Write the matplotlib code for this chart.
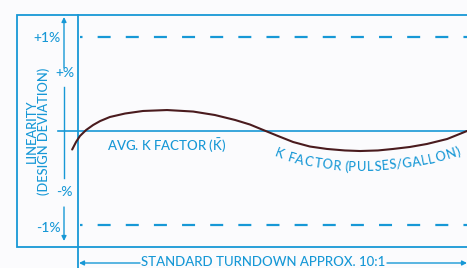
import matplotlib
matplotlib.use("Agg")
import matplotlib.pyplot as plt
import numpy as np
from matplotlib.transforms import Affine2D
from matplotlib.font_manager import FontProperties
from matplotlib.textpath import text_to_path

# Flow as % of the standard turndown span, linearity as % deviation from avg K
flow = [-1.5, -0.5, 0.5, 2.1, 3.9, 5.7, 8.2, 12.1, 16.7, 22.9, 29.6, 35.2, 40.4,
        44.2, 47.6, 51.4, 55.3, 59.6, 64.0, 68.6, 72.5, 77.1, 81.0, 85.3, 89.7,
        94.9, 100.0]
deviation = [-0.197, -0.117, -0.053, 0.011, 0.064, 0.106, 0.149, 0.186, 0.213,
             0.223, 0.207, 0.170, 0.117, 0.069, 0.011, -0.053, -0.117, -0.165,
             -0.191, -0.207, -0.213, -0.207, -0.191, -0.170, -0.138, -0.085, 0.000]
limits = [1, -1]
tick_labels = ["+1%", "+%", "-%", "-1%"]

blue = "#1798d6"
curve_col = "#4a1b1e"
FAM = 'Lato'
plt.rcParams['font.family'] = [FAM, 'DejaVu Sans']
plt.rcParams['font.weight'] = 'medium'
plt.rcParams['mathtext.fontset'] = 'custom'
plt.rcParams['mathtext.rm'] = FAM + ':medium'
plt.rcParams['lines.scale_dashes'] = False

W, H = 467, 268
fig = plt.figure(figsize=(W / 100, H / 100), dpi=100, facecolor="#fbfbfd")
ax = fig.add_axes([0, 0, 1, 1])
ax.set_facecolor("#fbfbfd")
ax.set_xlim(-78 / 3.89, 100.0)
ax.set_ylim((131 - 268) / 94, 131 / 94)
ax.axis("off")

# pixel coords, y down
pix = Affine2D().scale(1 / W, -1 / H).translate(0, 1) + ax.transAxes
pixu = Affine2D().scale(1 / W, 1 / H) + ax.transAxes

# frame
ax.plot([470, 17, 17, 470], [14.5, 14.5, 247, 247], color=blue, lw=1.3, transform=pix, solid_joinstyle='miter')
ax.plot([78, 78], [14.5, 270], color=blue, lw=1.3, transform=pix)

# +/-1% dashed limits and zero line
for lim in limits:
    ax.plot([2.5 / 3.89, 100], [lim, lim], color=blue, lw=1.6, linestyle=(7.56, (9.36, 10.9)))
ax.plot([(58 - 78) / 3.89, 100], [0, 0], color=blue, lw=1.2)

# vertical arrow with gaps for the +% / -% labels
arr = dict(arrowstyle='-|>', color=blue, lw=1.0, mutation_scale=7, shrinkA=0, shrinkB=0)
ax.annotate('', xy=(64, 17), xytext=(64, 68), xycoords=pix, textcoords=pix, arrowprops=arr)
ax.plot([64, 64], [87, 178], color=blue, lw=1.0, transform=pix)
ax.annotate('', xy=(64, 241), xytext=(64, 207), xycoords=pix, textcoords=pix, arrowprops=arr)

fs = 10
ax.text(61, 37.5, tick_labels[0], color=blue, fontsize=fs, ha='right', va='center', transform=pix)
ax.text(65, 73, tick_labels[1], color=blue, fontsize=fs, ha='center', va='center', transform=pix)
ax.text(64, 192, tick_labels[2], color=blue, fontsize=fs, ha='center', va='center', transform=pix)
ax.text(61, 227.5, tick_labels[3], color=blue, fontsize=fs, ha='right', va='center', transform=pix)
ax.text(38, 131, "LINEARITY\n(DESIGN DEVIATION)", color=blue, fontsize=9.3, rotation=90,
        ha='center', va='center', linespacing=1.0, multialignment='center', transform=pix)

# curve
ax.plot(flow, deviation, color=curve_col, lw=1.5, solid_capstyle='round')

ax.text(107, 145, r"AVG. K FACTOR ($\bar{\mathrm{K}}$)", color=blue, fontsize=9.5,
        ha='left', va='center', transform=pix)

# bottom turndown arrow
ax.annotate('', xy=(79, 263), xytext=(140, 263), xycoords=pix, textcoords=pix, arrowprops=arr)
ax.annotate('', xy=(467, 263), xytext=(387, 263), xycoords=pix, textcoords=pix, arrowprops=arr)
ax.text(263, 256, "STANDARD TURNDOWN APPROX. 10:1", color=blue, fontsize=9.5,
        ha='center', va='top', transform=pix)

# "K FACTOR (PULSES/GALLON)" following the curve
fig.canvas.draw()
disp = ax.transData.transform(np.column_stack([flow, deviation]))
xs = np.linspace(disp[0, 0], disp[-1, 0], 800)
ys = np.interp(xs, disp[:, 0], disp[:, 1])
k = np.ones(41) / 41
ys_s = np.convolve(np.pad(ys, 20, mode='edge'), k, mode='valid')
seg = np.hypot(np.diff(xs), np.diff(ys_s))
arc = np.concatenate([[0], np.cumsum(seg)])
label = "K FACTOR (PULSES/GALLON)"

def width(s, fp):
    return text_to_path.get_text_width_height_descent(s + "|", fp, ismath=False)[0] * 100 / 72

fp = FontProperties(family=[FAM, 'DejaVu Sans'], weight='medium', size=10)
fs_k = 10 * 176 / (width(label, fp) - width("", fp))
fp = FontProperties(family=[FAM, 'DejaVu Sans'], weight='medium', size=fs_k)
bar = width("", fp)
s0 = np.interp(281, xs, arc)
offset = 16
for i, ch in enumerate(label):
    a = width(label[:i], fp) - bar
    w = width(label[:i + 1], fp) - bar - a
    sc = s0 + a + w / 2
    j = int(np.clip(np.searchsorted(arc, sc), 5, len(xs) - 6))
    dx = xs[j + 5] - xs[j - 5]
    dy = ys_s[j + 5] - ys_s[j - 5]
    th = np.arctan2(dy, dx)
    cx = xs[j] + offset * np.sin(th)
    cy = ys_s[j] - offset * np.cos(th)
    ax.text(cx, cy, ch, color=blue, fontsize=fs_k, ha='center', va='center',
            rotation=np.degrees(th), rotation_mode='anchor', transform=pixu)

fig.savefig("out.png", dpi=100, facecolor=fig.get_facecolor())
